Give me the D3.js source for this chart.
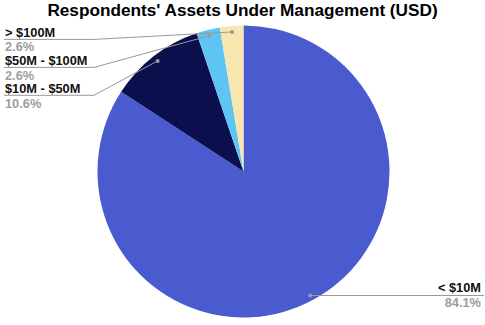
<!DOCTYPE html>
<html>
<head>
<meta charset="utf-8">
<script src="https://cdn.jsdelivr.net/npm/d3@7"></script>
<style>
  html, body { margin: 0; padding: 0; background: #fff; }
  svg { display: block; font-family: "Liberation Sans", Arial, sans-serif; }
</style>
</head>
<body>
<svg id="chart" width="485" height="325"></svg>
<script>
// Assets under management buckets, in drawing order (clockwise from 12 o'clock)
const categories = ["< $10M", "$10M - $50M", "$50M - $100M", "> $100M"];
const shares = [84.1, 10.6, 2.6, 2.6];
const percentLabels = ["84.1%", "10.6%", "2.6%", "2.6%"];
const colors = ["#4a5bd0", "#0b0f4e", "#5dc4f3", "#f7e7ae"];

const svg = d3.select("#chart");
const W = 485;
const cx = 243.5, cy = 171.5, R = 146;

svg.append("text")
  .attr("x", W / 2)
  .attr("y", 16)
  .attr("text-anchor", "middle")
  .attr("font-size", 17.2)
  .attr("font-weight", "bold")
  .attr("fill", "#000")
  .text("Respondents' Assets Under Management (USD)");

const pie = d3.pie().sort(null).value(d => d.v);
const arcs = pie(categories.map((c, i) => ({ c, v: shares[i], p: percentLabels[i], col: colors[i] })));
const arc = d3.arc().innerRadius(0).outerRadius(R);

const g = svg.append("g").attr("transform", `translate(${cx},${cy})`);
g.selectAll("path.slice")
  .data(arcs)
  .join("path")
  .attr("class", "slice")
  .attr("d", arc)
  .attr("fill", d => d.data.col);

// Leader-line anchor inside each slice
const dotR = 140;
function anchor(d) {
  const a = (d.startAngle + d.endAngle) / 2;
  return [cx + Math.sin(a) * dotR, cy - Math.cos(a) * dotR];
}

// Label placement: side, baseline of name, rule y
const place = {
  "< $10M":       { side: "right", base: 291.5, rule: 295.5, pct: 307 },
  "$10M - $50M":  { side: "left",  base: 92.7,  rule: 95.3,  pct: 107.5 },
  "$50M - $100M": { side: "left",  base: 64.8,  rule: 67.4,  pct: 79.5 },
  "> $100M":      { side: "left",  base: 36.8,  rule: 39.4,  pct: 51 }
};
const lineColor = "#9a9a9a";
const elbowX = 94;

const labels = svg.append("g");
arcs.forEach(d => {
  const p = place[d.data.c];
  const [ax, ay] = anchor(d);
  const left = p.side === "left";
  const tx = left ? 5 : 481;
  const pts = left
    ? [[4, p.rule], [elbowX, p.rule], [ax, ay]]
    : [[ax, p.rule], [484, p.rule]];
  labels.append("path")
    .attr("d", d3.line()(pts))
    .attr("fill", "none")
    .attr("stroke", lineColor)
    .attr("stroke-width", 1);
  labels.append("circle")
    .attr("cx", ax).attr("cy", left ? ay : p.rule)
    .attr("r", 2)
    .attr("fill", lineColor);
  labels.append("text")
    .attr("x", tx).attr("y", p.base)
    .attr("text-anchor", left ? "start" : "end")
    .attr("font-size", 12.8)
    .attr("font-weight", "bold")
    .attr("fill", "#111")
    .text(d.data.c);
  labels.append("text")
    .attr("x", tx).attr("y", p.pct)
    .attr("text-anchor", left ? "start" : "end")
    .attr("font-size", 12.8)
    .attr("font-weight", "bold")
    .attr("fill", "#9e9e9e")
    .text(d.data.p);
});
</script>
</body>
</html>
